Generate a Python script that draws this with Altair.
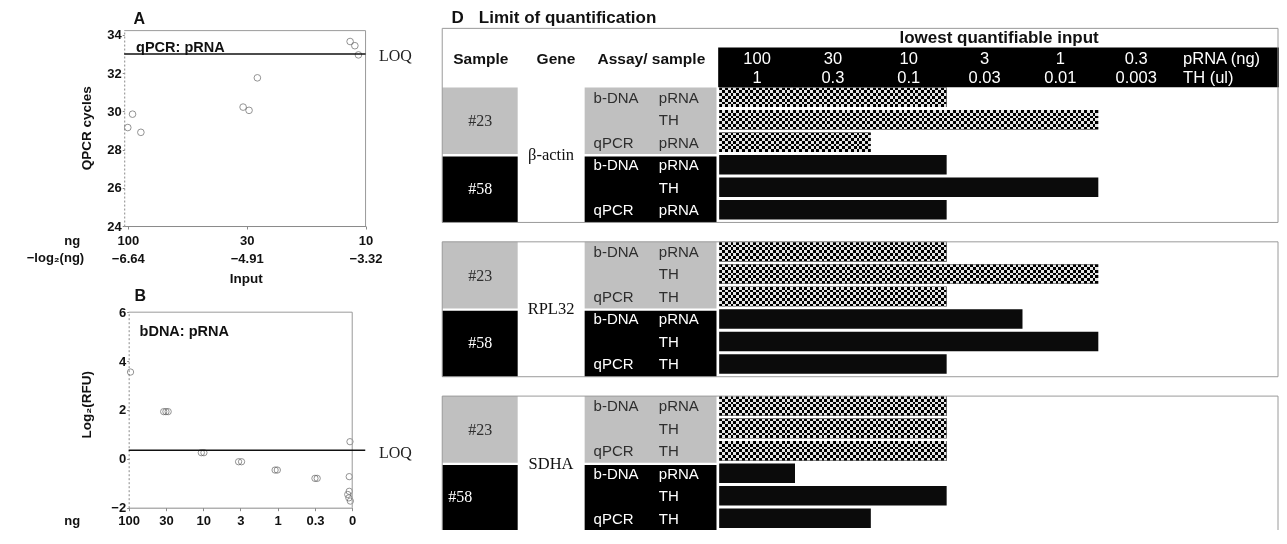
import altair as alt
import pandas as pd

# ---------------- Panel A: qPCR cycles vs. input (pRNA) ----------------
a_tick_ng = ["100", "30", "10"]
a_tick_log = ["\u22126.64", "\u22124.91", "\u22123.32"]
a_input = ["100", "100", "100", "30", "30", "30", "10", "10", "10"]
a_xpos = [0.0, 0.04, 0.11, 0.97, 1.02, 1.09, 1.87, 1.91, 1.94]
a_cycles = [29.15, 29.85, 28.9, 30.22, 30.05, 31.75, 33.65, 33.43, 32.95]
a_loq = 33.0

# ---------------- Panel B: bDNA log2(RFU) vs. input ----------------
b_tick_ng = ["100", "30", "10", "3", "1", "0.3", "0"]
b_input = ["100", "30", "30", "30", "10", "10", "3", "3", "1", "1",
           "0.3", "0.3", "0", "0", "0", "0", "0", "0"]
b_xpos = [0.05, 0.94, 1.0, 1.06, 1.95, 2.02, 2.95, 3.03, 3.93, 3.99,
          5.0, 5.06, 5.94, 5.92, 5.92, 5.88, 5.91, 5.95]
b_log2rfu = [3.55, 1.93, 1.93, 1.93, 0.25, 0.25, -0.12, -0.12, -0.46, -0.46,
             -0.8, -0.8, 0.7, -0.73, -1.33, -1.46, -1.6, -1.73]
b_loq = 0.35

# ---------------- Panel D: limit of quantification ----------------
d_ng = ["100", "30", "10", "3", "1", "0.3"]
d_th = ["1", "0.3", "0.1", "0.03", "0.01", "0.003"]
d_genes = ["\u03b2-actin", "RPL32", "SDHA"]
d_row_sample = ["#23", "#23", "#23", "#58", "#58", "#58"]
d_row_assay = ["b-DNA", "", "qPCR", "b-DNA", "", "qPCR"]
d_material = {
    "\u03b2-actin": ["pRNA", "TH", "pRNA", "pRNA", "TH", "pRNA"],
    "RPL32": ["pRNA", "TH", "TH", "pRNA", "TH", "TH"],
    "SDHA": ["pRNA", "TH", "TH", "pRNA", "TH", "TH"],
}
d_lowest = {
    "\u03b2-actin": ["10", "1", "30", "10", "1", "10"],
    "RPL32": ["10", "1", "10", "3", "1", "10"],
    "SDHA": ["10", "10", "10", "100", "10", "30"],
}

# ---------------- layout helpers ----------------
SANS = "Liberation Sans, Arial, Helvetica, sans-serif"
SERIF = "Liberation Serif, Times New Roman, Times, serif"
W, H = 1271, 522
KX = W / 1285.0
KY = H / 538.0


def X(v):
    return round((v - 2) * KX, 2)


def Y(v):
    return round((v - 6) * KY, 2)


one = pd.DataFrame({"k": [0]})


def label(text, x, y, size=13, weight="bold", font=SANS, align="left",
          color="#111", angle=0, baseline="middle"):
    return alt.Chart(pd.DataFrame({"t": [text]})).mark_text(
        align=align, baseline=baseline, font=font, fontSize=size,
        fontWeight=weight, color=color, angle=angle
    ).encode(x=alt.value(X(x)), y=alt.value(Y(y)), text="t:N")


def axis_common(**kw):
    base = dict(title=None, grid=False, domainColor="#8a8a8a", tickColor="#8a8a8a",
                labelFont=SANS, labelFontSize=13, labelFontWeight="bold",
                labelColor="#111", labelFlush=False, labelOverlap=False)
    base.update(kw)
    return alt.Axis(**base)


# ================= Panel A =================
dfA = pd.DataFrame({"input": a_input, "pos": a_xpos, "cycles": a_cycles})
a_expr = "[" + ",".join(f"['{n}','{l}']" for n, l in zip(a_tick_ng, a_tick_log)) + "][round(datum.value)]"
xA = alt.Scale(domain=[-0.03, 2.0], range=[X(119.5), X(363.5)], nice=False, zero=False)
yA = alt.Scale(domain=[24, 34.22], range=[Y(230.7), Y(29.3)], nice=False, zero=False)
axA_x = axis_common(orient="bottom", offset=Y(230.7) - H, values=[0, 1, 2], labelExpr=a_expr,
                    tickSize=3, labelPadding=5, labelLineHeight=18, labelBaseline="top")
axA_y = axis_common(orient="left", offset=-X(119.5), values=[24, 26, 28, 30, 32, 34],
                    domainDash=[2, 2], tickSize=2, labelPadding=1)

pointsA = alt.Chart(dfA).mark_point(shape="circle", filled=False, size=44,
                                    color="#555", strokeWidth=0.9).encode(
    x=alt.X("pos:Q", scale=xA, axis=axA_x),
    y=alt.Y("cycles:Q", scale=yA, axis=axA_y),
)
topA = alt.Chart(one).mark_rule(color="#9a9a9a", strokeWidth=1).encode(
    x=alt.XDatum(datum=-0.03, scale=xA, axis=axA_x), x2=alt.X2Datum(datum=2.0),
    y=alt.YDatum(datum=34.22, scale=yA, axis=axA_y))
rightA = alt.Chart(one).mark_rule(color="#9a9a9a", strokeWidth=1).encode(
    x=alt.XDatum(datum=2.0, scale=xA, axis=axA_x),
    y=alt.YDatum(datum=24, scale=yA, axis=axA_y), y2=alt.Y2Datum(datum=34.22))
loqA = alt.Chart(one).mark_rule(color="#111", strokeWidth=1.4).encode(
    x=alt.XDatum(datum=-0.03, scale=xA, axis=axA_x), x2=alt.X2Datum(datum=2.0),
    y=alt.YDatum(datum=a_loq, scale=yA, axis=axA_y))
loqTextA = alt.Chart(one).mark_text(font=SERIF, fontSize=16, align="left",
                                    baseline="middle", dy=2, color="#222").encode(
    x=alt.value(X(377)), y=alt.YDatum(datum=a_loq, scale=yA, axis=axA_y),
    text=alt.value("LOQ"))
groupA = alt.layer(pointsA, topA, rightA, loqA, loqTextA)

# ================= Panel B =================
dfB = pd.DataFrame({"input": b_input, "pos": b_xpos, "rfu": b_log2rfu})
b_expr = "[" + ",".join(f"'{n}'" for n in b_tick_ng) + "][round(datum.value)]"
xB = alt.Scale(domain=[0, 6], range=[X(124), X(350)], nice=False, zero=False)
yB = alt.Scale(domain=[-2, 6], range=[Y(521), Y(319.5)], nice=False, zero=False)
axB_x = axis_common(orient="bottom", offset=Y(521) - H, values=list(range(7)), labelExpr=b_expr,
                    tickSize=3, labelPadding=4, labelBaseline="top")
axB_y = axis_common(orient="left", offset=-X(124), values=[-2, 0, 2, 4, 6],
                    domainDash=[2, 2], tickSize=2, labelPadding=1)

pointsB = alt.Chart(dfB).mark_point(shape="circle", filled=False, size=40,
                                    color="#555", strokeWidth=0.9).encode(
    x=alt.X("pos:Q", scale=xB, axis=axB_x),
    y=alt.Y("rfu:Q", scale=yB, axis=axB_y),
)
topB = alt.Chart(one).mark_rule(color="#9a9a9a", strokeWidth=1).encode(
    x=alt.XDatum(datum=0, scale=xB, axis=axB_x), x2=alt.X2Datum(datum=6),
    y=alt.YDatum(datum=6, scale=yB, axis=axB_y))
rightB = alt.Chart(one).mark_rule(color="#9a9a9a", strokeWidth=1).encode(
    x=alt.XDatum(datum=6, scale=xB, axis=axB_x),
    y=alt.YDatum(datum=-2, scale=yB, axis=axB_y), y2=alt.Y2Datum(datum=6))
loqB = alt.Chart(one).mark_rule(color="#111", strokeWidth=1.4).encode(
    x=alt.XDatum(datum=0, scale=xB, axis=axB_x), x2=alt.X2Datum(datum=6.35),
    y=alt.YDatum(datum=b_loq, scale=yB, axis=axB_y))
loqTextB = alt.Chart(one).mark_text(font=SERIF, fontSize=16, align="left",
                                    baseline="middle", dy=3, color="#222").encode(
    x=alt.value(X(377)), y=alt.YDatum(datum=b_loq, scale=yB, axis=axB_y),
    text=alt.value("LOQ"))
groupB = alt.layer(pointsB, topB, rightB, loqB, loqTextB)

# ================= Panel D =================
ROW_PX = 23.17
G = 159.0 / ROW_PX          # slots between the starts of consecutive gene boxes
HEAD = 61.0 / ROW_PX        # header height in slots

rows = []
for g, gene in enumerate(d_genes):
    for r in range(6):
        lvl = d_lowest[gene][r]
        rows.append(dict(gene=gene, sample=d_row_sample[r], assay=d_row_assay[r],
                         material=d_material[gene][r], lowest=lvl,
                         start=0.0, end=d_ng.index(lvl) + 1.0,
                         top=g * G + r, bot=g * G + r + 0.87, mid=g * G + r + 0.45))
dfRows = pd.DataFrame(rows)

cells = []
for g, gene in enumerate(d_genes):
    for s, smp in enumerate(["#23", "#58"]):
        cells.append(dict(gene=gene, sample=smp,
                          top=g * G + s * 3 + (0.0 if s == 0 else 0.07),
                          bot=g * G + (2.96 if s == 0 else 6.0),
                          mid=g * G + s * 3 + 1.5))
dfCells = pd.DataFrame(cells)

dfGenes = pd.DataFrame({"gene": d_genes,
                        "mid": [g * G + 3 for g in range(3)],
                        "btop": [g * G - (HEAD if g == 0 else 0) for g in range(3)],
                        "bbot": [g * G + 6.0 for g in range(3)]})
dfHead = pd.DataFrame({"ng": d_ng, "th": d_th, "center": [i + 0.5 for i in range(len(d_ng))]})

xD = alt.Scale(domain=[0, 6], range=[X(721), X(1181)], nice=False, zero=False)
yD = alt.Scale(domain=[0, 3 * G], range=[Y(88), Y(88 + 3 * 159)], nice=False, zero=False)


def ydf(field):
    return alt.Y(field, scale=yD, axis=None)


textcol = alt.condition("datum.sample == '#58'", alt.value("#ffffff"), alt.value("#2e2e2e"))
fillcol = alt.condition("datum.sample == '#58'", alt.value("#000000"), alt.value("#c0c0c0"))

headBand = alt.Chart(one).mark_rect(color="#000000").encode(
    x=alt.value(X(720)), x2=alt.value(W), y=alt.value(Y(46.7)), y2=alt.value(Y(87.6)))
sampleFill = alt.Chart(dfCells).mark_rect().encode(
    x=alt.value(X(441)), x2=alt.value(X(517.3)), y=ydf("top:Q"), y2="bot:Q", color=fillcol)
assayFill = alt.Chart(dfCells).mark_rect().encode(
    x=alt.value(X(585)), x2=alt.value(X(718.3)), y=ydf("top:Q"), y2="bot:Q", color=fillcol)
sampleText = alt.Chart(dfCells).transform_filter(
    "!(datum.gene == 'SDHA' && datum.sample == '#58')").mark_text(
    font=SERIF, fontSize=16, align="center", baseline="middle").encode(
    x=alt.value(X(479.5)), y=ydf("mid:Q"), text="sample:N", color=textcol)
sampleTextLeft = alt.Chart(dfCells).transform_filter(
    "datum.gene == 'SDHA' && datum.sample == '#58'").mark_text(
    font=SERIF, fontSize=16, align="left", baseline="middle").encode(
    x=alt.value(X(447)), y=ydf("mid:Q"), text="sample:N", color=textcol)
geneText = alt.Chart(dfGenes).mark_text(font=SERIF, fontSize=16.5, align="center",
                                        baseline="middle", color="#111").encode(
    x=alt.value(X(551)), y=ydf("mid:Q"), text="gene:N")
assayText = alt.Chart(dfRows).mark_text(font=SANS, fontSize=15, align="left",
                                        baseline="middle").encode(
    x=alt.value(X(594)), y=ydf("mid:Q"), text="assay:N", color=textcol)
materialText = alt.Chart(dfRows).mark_text(font=SANS, fontSize=15, align="left",
                                           baseline="middle").encode(
    x=alt.value(X(660)), y=ydf("mid:Q"), text="material:N", color=textcol)

blackBars = alt.Chart(dfRows).transform_filter("datum.sample == '#58'").mark_rect(
    color="#0b0b0b").encode(
    x=alt.X("start:Q", scale=xD, axis=None), x2="end:Q", y=ydf("top:Q"), y2="bot:Q")

DARK, LIGHT = "#000000", "#e4e4e4"


def stripes(n, along_y):
    stops = []
    for i in range(n):
        c = DARK if i % 2 == 0 else LIGHT
        stops.append({"offset": i / n, "color": c})
        stops.append({"offset": (i + 1) / n, "color": c})
    g = {"gradient": "linear", "stops": stops}
    if along_y:
        g.update(x1=0, x2=0, y1=0, y2=1)
    else:
        g.update(x1=0, x2=1, y1=0, y2=0)
    return g


unit_px = (X(1181) - X(721)) / 6.0
bar_px = 0.87 * ROW_PX * KY
checker_layers = []
for k in sorted(set(dfRows.loc[dfRows["sample"] == "#23", "end"])):
    filt = f"datum.sample == '#23' && datum.end == {k}"
    nx = max(2, int(round(k * unit_px / 2.85)))
    ny = max(2, int(round(bar_px / 2.85)))
    enc = dict(x=alt.X("start:Q", scale=xD, axis=None), x2="end:Q",
               y=ydf("top:Q"), y2="bot:Q")
    checker_layers.append(alt.Chart(dfRows).transform_filter(filt).mark_rect(
        fill=stripes(ny, True)).encode(**enc))
    checker_layers.append(alt.Chart(dfRows).transform_filter(filt).mark_rect(
        fill=stripes(nx, False), blend="difference").encode(**enc))

headNg = alt.Chart(dfHead).mark_text(font=SANS, fontSize=16.5, color="white",
                                     align="center", baseline="middle").encode(
    x=alt.X("center:Q", scale=xD, axis=None), y=alt.value(Y(58.3)), text="ng:N")
headTh = alt.Chart(dfHead).mark_text(font=SANS, fontSize=16.5, color="white",
                                     align="center", baseline="middle").encode(
    x=alt.X("center:Q", scale=xD, axis=None), y=alt.value(Y(78.3)), text="th:N")
boxes = alt.Chart(dfGenes).mark_rect(filled=False, color="#9a9a9a", strokeWidth=1).encode(
    x=alt.value(X(441)), x2=alt.value(W - 1), y=ydf("btop:Q"), y2="bbot:Q")

groupD = alt.layer(headBand, sampleFill, assayFill, sampleText, sampleTextLeft, geneText,
                   assayText, materialText, blackBars, *checker_layers,
                   headNg, headTh, boxes)

# ================= free labels =================
statics = [
    label("A", 129, 17.5, size=16),
    label("qPCR: pRNA", 131.5, 47, size=14.5),
    label("QPCR cycles", 81.5, 130, size=13.5, align="center", angle=270),
    label("ng", 75, 246, size=13, align="right"),
    label("\u2212log\u2082(ng)", 79, 264, size=13, align="right"),
    label("Input", 243, 285, size=13.5, align="center"),
    label("B", 130, 303, size=16),
    label("bDNA: pRNA", 135, 340, size=14.5),
    label("Log\u2082(RFU)", 81.5, 415, size=13.5, align="center", angle=270),
    label("ng", 75, 535, size=13, align="right"),
    label("D", 450.5, 16.5, size=17),
    label("Limit of quantification", 478, 16.5, size=17),
    label("lowest quantifiable input", 1004, 37, size=17, align="center"),
    label("Sample", 480, 59, size=15.5, align="center"),
    label("Gene", 556, 59, size=15.5, align="center"),
    label("Assay/ sample", 652.5, 59, size=15.5, align="center"),
    label("pRNA (ng)", 1190, 58.3, size=16.5, weight="normal", color="white"),
    label("TH (ul)", 1190, 78.3, size=16.5, weight="normal", color="white"),
]

chart = alt.layer(groupA, groupB, groupD, *statics).resolve_scale(
    x="independent", y="independent"
).properties(
    width=W, height=H, padding=0, background="white",
    autosize=alt.AutoSizeParams(type="none"),
).configure_view(stroke=None)

chart.save("out.html", embed_options={"renderer": "svg", "actions": False})
